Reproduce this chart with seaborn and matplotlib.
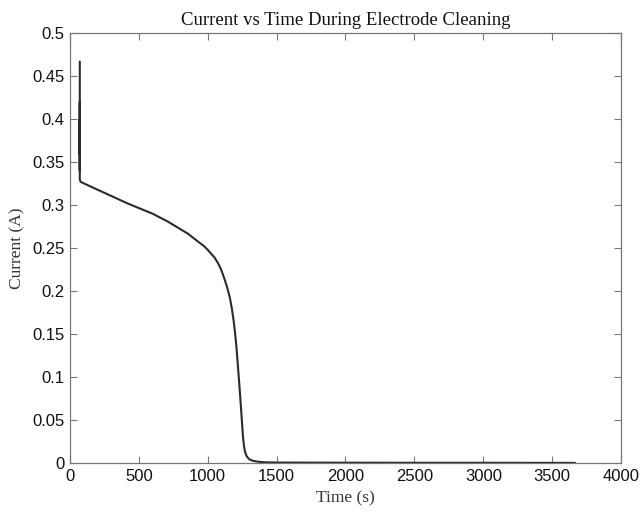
import matplotlib
matplotlib.use("Agg")
import matplotlib.pyplot as plt
import numpy as np
import pandas as pd
import seaborn as sns

# Electrode cleaning run: current (A) sampled against elapsed time (s)
time_s = [72, 72, 72, 72, 72, 72, 78, 200, 418, 600, 709, 854, 975, 1000,
          1050, 1080, 1100, 1120, 1140, 1160, 1175, 1188, 1198, 1207, 1215,
          1223, 1232, 1241, 1249, 1256, 1263, 1271, 1282, 1300, 1327, 1370,
          1412, 1500, 1700, 2000, 2500, 3000, 3500, 3665]
current_a = [0.467, 0.36, 0.42, 0.34, 0.40, 0.33, 0.327, 0.318, 0.302, 0.290,
             0.281, 0.267, 0.252, 0.248, 0.239, 0.231, 0.224, 0.215, 0.205,
             0.193, 0.180, 0.166, 0.152, 0.138, 0.122, 0.105, 0.086, 0.066,
             0.047, 0.031, 0.020, 0.013, 0.008, 0.0045, 0.0025, 0.0013,
             0.0008, 0.0005, 0.0004, 0.0003, 0.0002, 0.0002, 0.0001, 0.0001]

x_ticks = [0, 500, 1000, 1500, 2000, 2500, 3000, 3500, 4000]
y_ticks = [0, 0.05, 0.1, 0.15, 0.2, 0.25, 0.3, 0.35, 0.4, 0.45, 0.5]
y_tick_labels = ["0", "0.05", "0.1", "0.15", "0.2", "0.25", "0.3", "0.35",
                 "0.4", "0.45", "0.5"]

df = pd.DataFrame({"Time (s)": time_s, "Current (A)": current_a})

sns.set_theme(style="ticks")
plt.rcParams["font.family"] = ["Liberation Sans", "DejaVu Sans"]

fig = plt.figure(figsize=(6.41, 5.19), dpi=100)
ax = fig.add_axes([0.109, 0.108, 0.860, 0.828])

sns.lineplot(data=df, x="Time (s)", y="Current (A)", ax=ax, color="#2b2b2b",
             linewidth=1.5, sort=False, estimator=None)

ax.set_xlim(0, 4000)
ax.set_ylim(0, 0.5)
ax.set_xticks(x_ticks)
ax.set_xticklabels([str(t) for t in x_ticks])
ax.set_yticks(y_ticks)
ax.set_yticklabels(y_tick_labels)

ax.tick_params(direction="in", length=5, width=0.8, color="#777777",
               labelsize=12, labelcolor="#111111", top=True, right=True, pad=4)
for side in ["top", "right", "bottom", "left"]:
    ax.spines[side].set_visible(True)
    ax.spines[side].set_color("#777777")
    ax.spines[side].set_linewidth(0.9)

serif = ["Liberation Serif", "DejaVu Serif"]
ax.set_xlabel("Time (s)", family=serif, fontsize=12.5, color="#333333", labelpad=5)
ax.set_ylabel("Current (A)", family=serif, fontsize=12.5, color="#333333", labelpad=5)
ax.set_title("Current vs Time During Electrode Cleaning", family=serif,
             fontsize=13.5, color="#111111", pad=6)

fig.savefig("out.png", dpi=100)
